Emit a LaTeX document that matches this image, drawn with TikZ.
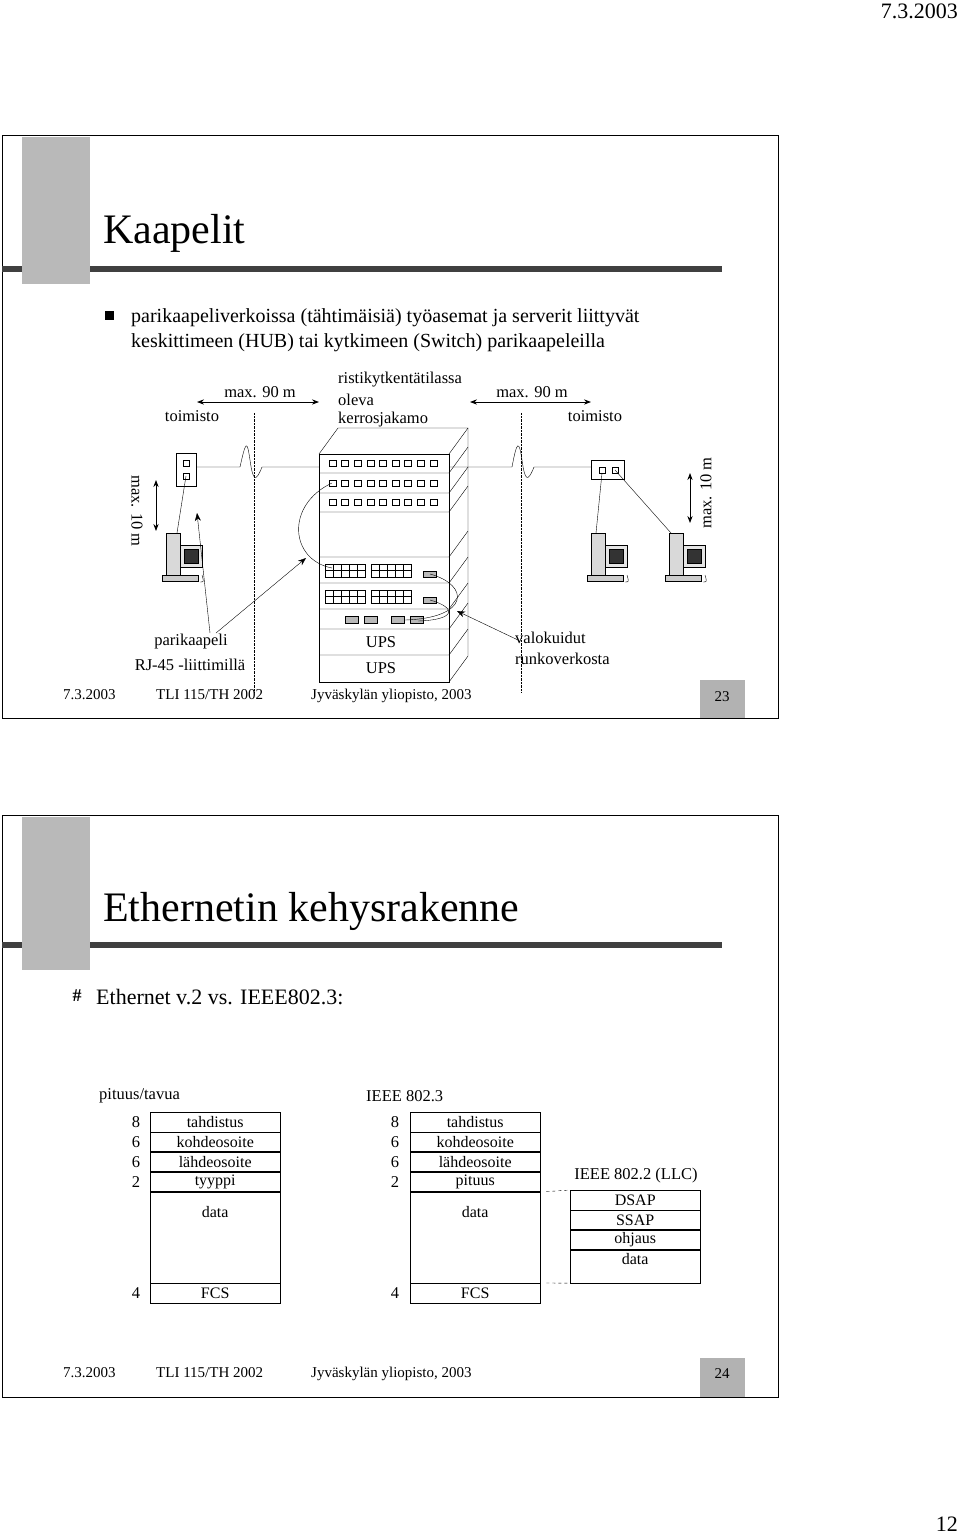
\documentclass[tikz,border=0pt]{standalone}
\usepackage{fontspec}
\setmainfont{Liberation Serif}
\usetikzlibrary{arrows.meta,positioning}
\tikzset{
  lbl/.style={font=\fontsize{16.5}{18}\selectfont, inner sep=0pt},
  foot/.style={font=\fontsize{15}{17}\selectfont, inner sep=0pt, anchor=base west},
  ttl/.style={font=\fontsize{42}{46}\selectfont, inner sep=0pt, anchor=base west},
  dim/.style={{Stealth[length=7pt]}-{Stealth[length=7pt]}, thick},
  pt/.style={-{Stealth[length=8pt]}},
  field/.style={draw, minimum width=130pt, inner sep=0pt, font=\fontsize{16}{18}\selectfont},
  graybar/.style={fill=gray!55, draw=none},
}
\begin{document}
\begin{tikzpicture}[x=1pt,y=-1pt]
\useasboundingbox (0,0) rectangle (960,1534);
% header
\node[font=\fontsize{22}{24}\selectfont, anchor=north east, inner sep=0] (hdr) at (958,4) {7.3.2003};
\node[font=\fontsize{22}{24}\selectfont, anchor=south east, inner sep=0] (pg) at (958,1532) {12};

% ---------- slide 23 ----------
\draw[thick] (2,135) rectangle (778,718);
\fill[graybar] (22,137) rectangle (90,284);
\fill[black!75] (2,266) rectangle (722,272);
\fill[graybar] (22,266) rectangle (90,272);
\node[ttl] (t1) at (103,243) {Kaapelit};
\fill (105,311) rectangle (114,320);
\node[font=\fontsize{20}{22}\selectfont, anchor=base west, inner sep=0] (b1) at (131,322) {parikaapeliverkoissa (tähtimäisiä) työasemat ja serverit liittyvät};
\node[font=\fontsize{20}{22}\selectfont, anchor=base west, inner sep=0] (b2) at (131,347) {keskittimeen (HUB) tai kytkimeen (Switch) parikaapeleilla};

% mitat
\coordinate (m1a) at (197,402); \coordinate (m1b) at (319,402);
\draw[dim] (m1a) -- (m1b);
\node[lbl] (m1) at (260,392) {max. 90 m};
\coordinate (m2a) at (470,402); \coordinate (m2b) at (591,402);
\draw[dim] (m2a) -- (m2b);
\node[lbl] (m2) at (532,392) {max. 90 m};
\node[lbl] (toim1) at (192,416) {toimisto};
\node[lbl] (toim2) at (595,416) {toimisto};
\node[lbl, anchor=west] (rk1) at (338,380) {ristikytkentätilassa};
\node[lbl, anchor=west] (rk2) at (338,400) {oleva};
\node[lbl, anchor=west] (rk3) at (338,420) {kerrosjakamo};
\draw[densely dotted] (254,413) -- (254,692);
\draw[densely dotted] (521,413) -- (521,692);

% pystymitat
\draw[dim] (156,480) -- (156,531);
\node[lbl, rotate=-90] (m3) at (137,511) {max. 10 m};
\draw[dim] (690,473) -- (690,523);
\node[lbl, rotate=90] (m4) at (706,493) {max. 10 m};

% kaappi
\draw (319,454) rectangle (449,682);
\draw (319,454) -- (338,428) -- (468,428) -- (449,454);
\draw (468,428) -- (468,656) -- (449,682);
\foreach \y in {473,493,512,557,583,609,629,655}{
  \draw (319,\y) -- (449,\y) -- (468,\y-26);
}
\foreach \r in {463,483,502}{
  \foreach \i in {0,...,8}{
    \draw (329+\i*12.6,\r-3) rectangle ++(7,6);
  }
}
\foreach \y in {564,590}{
  \foreach \gx in {325,371}{
    \draw (\gx,\y) rectangle ++(40,13);
    \draw (\gx,\y+6.5) -- ++(40,0);
    \foreach \k in {1,...,4}{ \draw (\gx+\k*8,\y) -- ++(0,13); }
  }
}
\draw[fill=gray!55] (423,571) rectangle (436,577);
\draw[fill=gray!55] (423,597) rectangle (436,603);
\foreach \gx in {345,364,391,410}{
  \draw[fill=gray!55] (\gx,616) rectangle ++(13,7);
}
\node[lbl] (ups1) at (381,642) {UPS};
\node[lbl] (ups2) at (381,668) {UPS};
\coordinate (pp1) at (332,483); \coordinate (pp2) at (332,568);
\draw (pp1) .. controls (285,505) and (290,560) .. (pp2);
\coordinate (fo1) at (430,574); \coordinate (fo2) at (405,620);
\draw (fo1) .. controls (470,585) and (470,618) .. (fo2);
\coordinate (fo3) at (430,600); \coordinate (fo4) at (418,621);
\draw (fo3) .. controls (458,608) and (455,620) .. (fo4);

% rasiat ja kaapelit
\draw (176,453) rectangle (196,486);
\draw (183,460) rectangle ++(6,6);
\draw (183,473) rectangle ++(6,6);
\draw (196,467) -- (240,467) .. controls (246,440) and (247,440) .. (250,460)
  .. controls (253,482) and (256,482) .. (262,467) -- (319,467);
\draw (591,460) rectangle (624,479);
\draw (599,467) rectangle ++(6,6);
\draw (612,467) rectangle ++(6,6);
\draw (449,467) -- (512,467) .. controls (517,440) and (519,440) .. (522,460)
  .. controls (525,482) and (528,482) .. (534,467) -- (591,467);

% tietokoneet
\foreach \px/\nm in {162/pc1,587/pc2,665/pc3}{
  \coordinate (\nm) at (\px,533);
  \draw[fill=gray!30] (\px+4,533) rectangle ++(14,44);
  \draw[fill=gray!20] (\px+18,545) rectangle ++(22,22);
  \draw[fill=black!80] (\px+22,549) rectangle ++(14,14);
  \draw[fill=gray!40] (\px,575) rectangle ++(36,6);
  \draw (\px+40,575) .. controls (\px+42,582) .. (\px+38,582);
}
\draw (186,476) -- ([xshift=15]pc1);
\draw (602,473) -- ([xshift=9]pc2);
\draw (615,470) -- ([xshift=6]pc3);

% selitteet
\node[lbl] (pk1) at (191,642) {parikaapeli};
\node[lbl] (pk2) at (190,665) {RJ-45 -liittimillä};
\draw[pt] (210,633) -- (197,513);
\draw[pt] (216,633) -- (306,558);
\node[lbl, anchor=west] (vk1) at (515,638) {valokuidut};
\node[lbl, anchor=west] (vk2) at (515,659) {runkoverkosta};
\draw[pt] (518,640) -- (457,611);

\node[foot] (f1a) at (63,699) {7.3.2003};
\node[foot] (f1b) at (156,699) {TLI 115/TH 2002};
\node[foot] (f1c) at (311,699) {Jyväskylän yliopisto, 2003};
\fill[gray!60] (700,680) rectangle (745,718);
\node[foot, anchor=center] (n23) at (722,697) {23};

% ---------- slide 24 ----------
\draw[thick] (2,815) rectangle (778,1397);
\fill[graybar] (22,817) rectangle (90,970);
\fill[black!75] (2,942) rectangle (722,948);
\fill[graybar] (22,942) rectangle (90,948);
\node[ttl] (t2) at (103,921) {Ethernetin kehysrakenne};
\node[font=\fontsize{18}{20}\selectfont\bfseries, inner sep=0] (hs) at (77,996) {\#};
\node[font=\fontsize{22}{24}\selectfont, anchor=west, inner sep=0] (b3) at (96,997) {Ethernet v.2 vs. IEEE802.3:};

\node[lbl, anchor=west] (pt1) at (99,1096) {pituus/tavua};
\node[lbl, anchor=west] (pt2) at (366,1096) {IEEE 802.3};
\node[lbl] (llc) at (636,1176) {IEEE 802.2 (LLC)};

\foreach \tx/\nx/\ty/\tn in {150/136/tyyppi/e, 410/395/pituus/i}{
  \node[field, anchor=north west, minimum height=19.5pt] (\tn a) at (\tx,1112) {tahdistus};
  \node[field, anchor=north, minimum height=19.5pt] (\tn b) at (\tn a.south) {kohdeosoite};
  \node[field, anchor=north, minimum height=19.5pt] (\tn c) at (\tn b.south) {lähdeosoite};
  \node[field, anchor=north, minimum height=19.5pt] (\tn d) at (\tn c.south) {\ty};
  \node[field, anchor=north, minimum height=91pt, text depth=50pt] (\tn f) at (\tn d.south) {data};
  \node[field, anchor=north, minimum height=19.5pt] (\tn g) at (\tn f.south) {FCS};
  \foreach \v/\r in {8/a,6/b,6/c,2/d,4/g}{
    \node[lbl] at (\nx,0 |- \tn\r.center) {\v};
  }
}
\node[field, anchor=north west, minimum height=19.5pt] (la) at (570,1190) {DSAP};
\node[field, anchor=north, minimum height=19.5pt] (lb) at (la.south) {SSAP};
\node[field, anchor=north, minimum height=19.5pt] (lc) at (lb.south) {ohjaus};
\node[field, anchor=north, minimum height=33pt, text depth=14pt] (ld) at (lc.south) {data};
\draw[dashed] (id.south east) ++(6,0) -- (la.north west);
\draw[dashed] (ig.north east) ++(6,0) -- (ld.south west);

\node[foot] (f2a) at (63,1377) {7.3.2003};
\node[foot] (f2b) at (156,1377) {TLI 115/TH 2002};
\node[foot] (f2c) at (311,1377) {Jyväskylän yliopisto, 2003};
\fill[gray!60] (700,1358) rectangle (745,1397);
\node[foot, anchor=center] (n24) at (722,1374) {24};
\end{tikzpicture}
\end{document}
